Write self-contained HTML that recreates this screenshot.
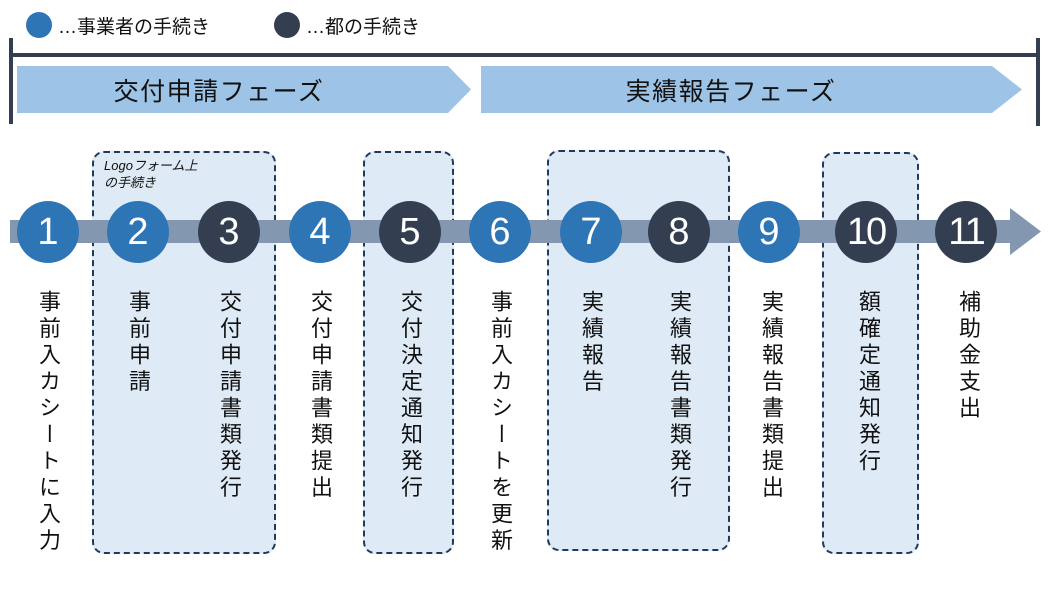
<!DOCTYPE html>
<html><head><meta charset="utf-8"><style>
body{margin:0;width:1051px;height:591px;background:#fff;position:relative;overflow:hidden;font-family:"Liberation Sans","Noto Sans CJK JP",sans-serif;color:#111}
.a{position:absolute}
.c{position:absolute;width:62px;height:62px;border-radius:50%;color:#fff;font-size:38px;line-height:62px;text-align:center;top:201px}
.b{background:#2e75b6}.d{background:#333f50}
.box{position:absolute;background:#deeaf6;border:2.5px dashed #1f3a5a;border-radius:12px;box-sizing:border-box}
.v{position:absolute;top:290px;writing-mode:vertical-rl;font-size:22px;letter-spacing:4.5px;line-height:24px;transform:translateX(-50%)}
</style></head><body>
<div class="a b" style="left:26px;top:12px;width:26px;height:26px;border-radius:50%"></div>
<div class="a" style="left:58px;top:12px;font-size:19px">…事業者の手続き</div>
<div class="a d" style="left:274px;top:12px;width:26px;height:26px;border-radius:50%"></div>
<div class="a" style="left:306px;top:12px;font-size:19px">…都の手続き</div>
<div class="a" style="left:9px;top:38px;width:4px;height:86px;background:#333f50"></div>
<div class="a" style="left:1036px;top:38px;width:4px;height:88px;background:#333f50"></div>
<div class="a" style="left:10px;top:53px;width:1030px;height:4px;background:#333f50"></div>
<svg class="a" style="left:0;top:0" width="1051" height="591">
<polygon points="17,66 448,66 471,89.5 448,113 17,113" fill="#9dc3e6"/>
<polygon points="481,66 992,66 1022,89.5 992,113 481,113" fill="#9dc3e6"/>
</svg>
<div class="a" style="left:17px;width:404px;top:72px;text-align:center;font-size:25px;letter-spacing:1.5px">交付申請フェーズ</div>
<div class="a" style="left:481px;width:500px;top:72px;text-align:center;font-size:25px;letter-spacing:1.5px">実績報告フェーズ</div>
<div class="box" style="left:92px;top:151px;width:184px;height:403px"></div>
<div class="box" style="left:363px;top:151px;width:91px;height:403px"></div>
<div class="box" style="left:547px;top:150px;width:183px;height:401px"></div>
<div class="box" style="left:822px;top:152px;width:97px;height:402px"></div>
<div class="a" style="left:104px;top:157px;font-size:13px;font-style:italic;line-height:17px">Logoフォーム上<br>の手続き</div>
<svg class="a" style="left:0;top:0" width="1051" height="591">
<rect x="10" y="220" width="1002" height="23" fill="#8497b0"/>
<polygon points="1010,208 1041,231.5 1010,255" fill="#8497b0"/>
</svg>
<div class="c b" style="left:17px">1</div>
<div class="c b" style="left:107px">2</div>
<div class="c d" style="left:198px">3</div>
<div class="c b" style="left:289px">4</div>
<div class="c d" style="left:379px">5</div>
<div class="c b" style="left:469px">6</div>
<div class="c b" style="left:560px">7</div>
<div class="c d" style="left:648px">8</div>
<div class="c b" style="left:738px">9</div>
<div class="c d" style="left:835px;letter-spacing:-2px">10</div>
<div class="c d" style="left:935px;letter-spacing:-2px">11</div>
<div class="v" style="left:48px">事前入カシートに入力</div>
<div class="v" style="left:138px">事前申請</div>
<div class="v" style="left:229px">交付申請書類発行</div>
<div class="v" style="left:320px">交付申請書類提出</div>
<div class="v" style="left:410px">交付決定通知発行</div>
<div class="v" style="left:500px">事前入カシートを更新</div>
<div class="v" style="left:591px">実績報告</div>
<div class="v" style="left:679px">実績報告書類発行</div>
<div class="v" style="left:771px">実績報告書類提出</div>
<div class="v" style="left:868px">額確定通知発行</div>
<div class="v" style="left:968px">補助金支出</div>
</body></html>
